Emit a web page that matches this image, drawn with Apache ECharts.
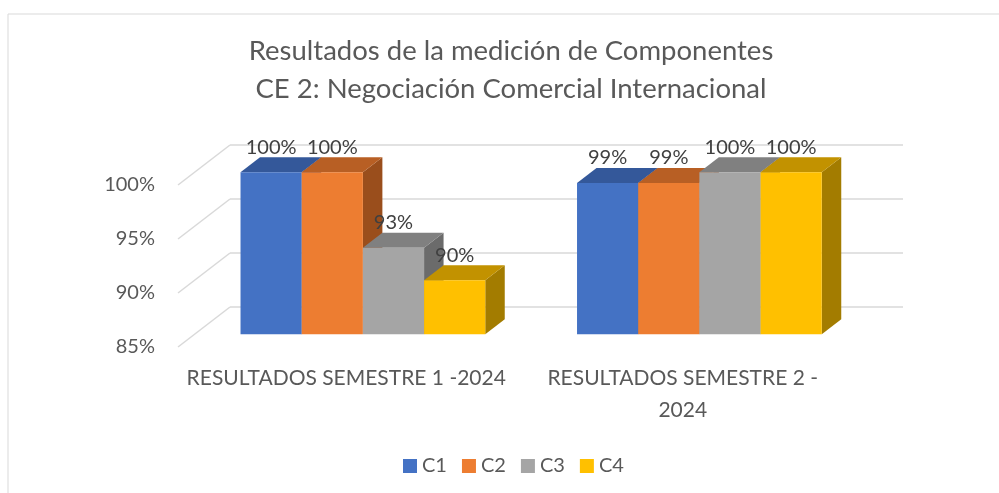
<!DOCTYPE html>
<html>
<head>
<meta charset="utf-8">
<script src="https://cdn.jsdelivr.net/npm/echarts@6/dist/echarts.min.js"></script>
<style>
    html, body { margin: 0; padding: 0; background: #fff; }
    #chart { width: 999px; height: 493px; }
</style>
</head>
<body>
<div id="chart"></div>
<script>
const categories = ["RESULTADOS SEMESTRE 1 -2024", "RESULTADOS SEMESTRE 2 - 2024"];
const seriesNames = ["C1", "C2", "C3", "C4"];
const c1 = [100, 99];
const c2 = [100, 99];
const c3 = [93, 100];
const c4 = [90, 100];
const yTicks = [85, 90, 95, 100];

const FONT = "Lato";
const Y_MIN = 85;
// 3D look: back wall offset from the front floor edge
const WALL_DX = 52, WALL_DY = -40;
const BAR_OFF = 0.32;   // bars front plane, fraction of the depth
const BAR_DEPTH = 0.375;
const GAP = 1.5;        // gap width 150%

const palette = [
    { front: "#4472C4", top: "#34589A", side: "#2F5090" },
    { front: "#ED7D31", top: "#B85F24", side: "#9A4E1C" },
    { front: "#A5A5A5", top: "#808080", side: "#6B6B6B" },
    { front: "#FFC000", top: "#C29200", side: "#A37C00" },
];

const chart = echarts.init(document.getElementById("chart"));

const gridRender = (params, api) => {
    const cs = params.coordSys;
    const y = api.coord([0, api.value(1)])[1];
    const xl = cs.x, xr = cs.x + cs.width;
    const style = { stroke: "#D9D9D9", lineWidth: 1.5 };
    return {
        type: "group",
        children: [
            { type: "line", shape: { x1: xl, y1: y, x2: xl + WALL_DX, y2: y + WALL_DY }, style },
            { type: "line", shape: { x1: xl + WALL_DX, y1: y + WALL_DY, x2: xr + WALL_DX, y2: y + WALL_DY }, style },
        ],
    };
};

const barRender = (idx) => (params, api) => {
    const cat = api.value(0), val = api.value(1);
    const base = api.coord([cat, Y_MIN]);
    const top = api.coord([cat, val]);
    const band = api.size([1, 0])[0];
    const w = band / (4 + GAP);
    const ox = WALL_DX * BAR_OFF, oy = WALL_DY * BAR_OFF;
    const dx = WALL_DX * BAR_DEPTH, dy = WALL_DY * BAR_DEPTH;
    const x0 = base[0] - 2 * w + idx * w + ox;
    const x1 = x0 + w;
    const yb = base[1] + oy, yt = top[1] + oy;
    const c = palette[idx];
    return {
        type: "group",
        children: [
            { type: "polygon", shape: { points: [[x1, yt], [x1 + dx, yt + dy], [x1 + dx, yb + dy], [x1, yb]] }, style: { fill: c.side } },
            { type: "polygon", shape: { points: [[x0, yt], [x0 + dx, yt + dy], [x1 + dx, yt + dy], [x1, yt]] }, style: { fill: c.top } },
            { type: "rect", shape: { x: x0, y: yt, width: w, height: yb - yt }, style: { fill: c.front } },
            {
                type: "text",
                x: x0 + w / 2,
                y: yt - 25,
                style: {
                    text: val + "%",
                    fill: "#404040",
                    font: "20px " + FONT,
                    textAlign: "center",
                    textVerticalAlign: "middle",
                },
            },
        ],
    };
};

const values = [c1, c2, c3, c4];

const option = {
    backgroundColor: "#fff",
    textStyle: { fontFamily: FONT },
    graphic: [
        {
            type: "rect",
            shape: { x: 8, y: 14, width: 1200, height: 800 },
            style: { fill: "none", stroke: "#D9D9D9", lineWidth: 1 },
            silent: true,
        },
    ],
    title: {
        text: "Resultados de la medición de Componentes\nCE 2: Negociación Comercial Internacional",
        left: 511,
        textAlign: "center",
        top: 32,
        padding: 0,
        textStyle: {
            fontFamily: FONT,
            fontSize: 27.5,
            fontWeight: "normal",
            color: "#595959",
            lineHeight: 38,
        },
    },
    legend: {
        data: seriesNames,
        left: 398,
        top: 451,
        icon: "rect",
        itemWidth: 14,
        itemHeight: 14,
        itemGap: 15,
        textStyle: { fontFamily: FONT, fontSize: 20, color: "#595959" },
    },
    grid: {
        left: 178,
        right: 148,
        top: 185,
        bottom: 146,
    },
    xAxis: {
        type: "category",
        data: categories,
        axisLine: { show: false },
        axisTick: { show: false },
        axisLabel: {
            interval: 0,
            margin: 15,
            fontFamily: FONT,
            fontSize: 21,
            color: "#595959",
            lineHeight: 32,
            formatter: (v) => v.replace("- ", "-\n"),
        },
    },
    yAxis: {
        type: "value",
        min: 85,
        max: 100,
        interval: 5,
        splitLine: { show: false },
        axisLine: { show: false },
        axisTick: { show: false },
        axisLabel: {
            margin: 23,
            fontFamily: FONT,
            fontSize: 20,
            color: "#595959",
            formatter: "{value}%",
        },
    },
    series: [
        {
            name: "grid",
            type: "custom",
            silent: true,
            z: 1,
            renderItem: gridRender,
            data: yTicks.map((v) => [0, v]),
            encode: { x: 0, y: 1 },
        },
        ...seriesNames.map((name, i) => ({
            name,
            type: "custom",
            z: 2,
            itemStyle: { color: palette[i].front },
            renderItem: barRender(i),
            data: values[i].map((v, k) => [k, v]),
            encode: { x: 0, y: 1 },
        })),
    ],
};

chart.setOption(option);
window.addEventListener("resize", () => chart.resize());
</script>
</body>
</html>
